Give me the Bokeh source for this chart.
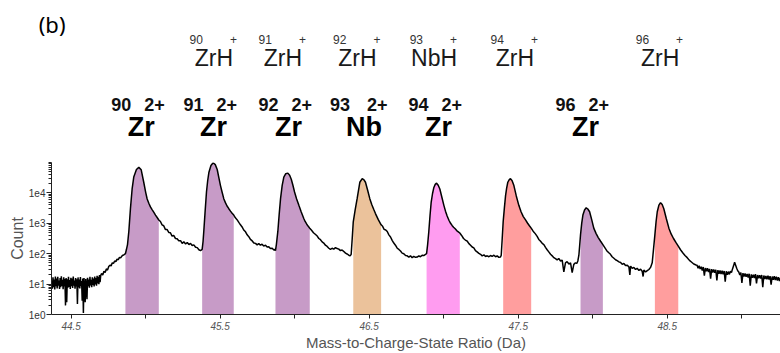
import numpy as np
from bokeh.plotting import figure
from bokeh.layouts import column
from bokeh.models import (Range1d, FixedTicker, CustomJSTickFormatter, ColumnDataSource,
                          LinearAxis)
from bokeh.core.properties import value
from bokeh.embed import file_html
from bokeh.resources import INLINE

# ---------------- data ----------------
# spectrum: mass-to-charge (Da) and log10(count), segment by segment
left_mz = [44.370, 44.374, 44.378, 44.382, 44.386, 44.390, 44.394, 44.398, 44.402, 44.406,
           44.410, 44.414, 44.418, 44.422, 44.426, 44.430, 44.434, 44.438, 44.442, 44.446,
           44.450, 44.454, 44.458, 44.462, 44.466, 44.470, 44.474, 44.478, 44.482, 44.486,
           44.490, 44.494, 44.498, 44.502, 44.506, 44.510, 44.514, 44.518, 44.522, 44.526,
           44.530, 44.534, 44.538, 44.542, 44.546, 44.550, 44.554, 44.558, 44.562, 44.566,
           44.570, 44.574, 44.578, 44.582, 44.586, 44.590, 44.594, 44.598, 44.602, 44.606,
           44.610, 44.614, 44.618, 44.622, 44.626, 44.630, 44.634, 44.638, 44.642, 44.646,
           44.650, 44.654, 44.658, 44.662, 44.666, 44.670, 44.674, 44.678, 44.682, 44.686,
           44.690, 44.694, 44.698,
           44.704, 44.712, 44.720, 44.728, 44.736, 44.744, 44.752, 44.760, 44.768, 44.776,
           44.784, 44.792, 44.800, 44.808, 44.816, 44.824, 44.832, 44.840, 44.848, 44.856,
           44.864]
left_log = [1.05, 0.85, 1.22, 0.90, 1.15, 0.82, 1.25, 0.93, 1.18, 0.86,
            1.24, 0.95, 1.12, 0.84, 1.20, 0.90, 1.26, 0.94, 1.14, 0.83,
            1.22, 0.92, 1.17, 0.30, 1.20, 0.40, 1.16, 0.88, 1.24, 0.91,
            1.13, 0.84, 1.21, 0.93, 1.18, 0.87, 1.25, 0.95, 1.12, 0.85,
            1.20, 0.92, 1.16, 0.35, 1.22, 0.89, 1.15, 0.86, 1.23, 0.94,
            1.10, 0.45, 1.18, 0.05, 1.20, 0.90, 0.40, 1.17, 0.92, 0.50,
            1.21, 0.93, 1.15, 0.88, 1.24, 0.96, 1.14, 0.90, 1.22, 0.97,
            1.18, 0.92, 1.25, 0.99, 1.20, 0.95, 1.27, 1.02, 1.24, 1.00,
            1.30, 1.06, 1.28,
            1.35, 1.30, 1.42, 1.38, 1.50, 1.46, 1.58, 1.62, 1.60, 1.70,
            1.68, 1.76, 1.74, 1.82, 1.80, 1.88, 1.86, 1.92, 1.95, 1.97,
            2.00]

p1_mz = [44.870, 44.878, 44.887, 44.898, 44.909, 44.920, 44.938, 44.954, 44.970, 44.987,
         45.000, 45.010, 45.021, 45.032, 45.043, 45.055, 45.066, 45.077, 45.088,
         45.099, 45.110, 45.121, 45.132, 45.143, 45.155, 45.166, 45.177, 45.188, 45.200,
         45.211, 45.222, 45.234, 45.245, 45.256, 45.268, 45.279, 45.290, 45.301, 45.312,
         45.323, 45.335, 45.346, 45.357, 45.368]
p1_log = [2.12, 2.30, 2.74, 3.50, 4.13, 4.52, 4.77, 4.84, 4.76, 4.35,
          4.02, 3.80, 3.66, 3.54, 3.45, 3.36, 3.27, 3.19, 3.11,
          3.06, 2.95, 2.92, 2.80, 2.80, 2.70, 2.69, 2.58, 2.60, 2.50,
          2.49, 2.43, 2.43, 2.34, 2.39, 2.32, 2.37, 2.30, 2.34, 2.27,
          2.29, 2.21, 2.20, 2.13, 2.10]

p2_mz = [45.379, 45.385, 45.390, 45.399, 45.408, 45.416, 45.424, 45.438, 45.453, 45.467,
         45.480, 45.491, 45.502, 45.513, 45.524, 45.535, 45.546, 45.558, 45.569, 45.580,
         45.591, 45.602, 45.613, 45.625, 45.636, 45.647, 45.658, 45.670, 45.681, 45.692,
         45.703, 45.715, 45.726, 45.737, 45.748, 45.759, 45.770, 45.781, 45.792, 45.804,
         45.815, 45.826, 45.837, 45.849, 45.860, 45.866]
p2_log = [2.14, 2.40, 2.74, 3.40, 4.03, 4.40, 4.67, 4.90, 4.99, 4.93,
          4.77, 4.50, 4.24, 4.02, 3.81, 3.68, 3.57, 3.48, 3.40, 3.33,
          3.27, 3.18, 3.12, 3.03, 2.95, 2.88, 2.78, 2.72, 2.62, 2.56,
          2.47, 2.42, 2.35, 2.34, 2.29, 2.33, 2.28, 2.31, 2.25, 2.28,
          2.22, 2.23, 2.17, 2.18, 2.12, 2.14]

p3_mz = [45.871, 45.877, 45.887, 45.896, 45.905, 45.916, 45.927, 45.940, 45.954, 45.966,
         45.977, 45.988, 45.999, 46.013, 46.028, 46.044, 46.061, 46.070, 46.081, 46.091,
         46.101, 46.113, 46.126, 46.138, 46.151, 46.162, 46.173, 46.184, 46.195, 46.206,
         46.218, 46.229, 46.240, 46.251, 46.262, 46.274, 46.285, 46.296, 46.307, 46.318,
         46.330, 46.341, 46.352, 46.363, 46.372]
p3_log = [2.10, 2.30, 2.74, 3.30, 3.81, 4.25, 4.52, 4.63, 4.65, 4.58,
          4.45, 4.25, 4.03, 3.80, 3.59, 3.37, 3.16, 3.06, 2.97, 2.90,
          2.84, 2.77, 2.69, 2.64, 2.58, 2.50, 2.46, 2.39, 2.35, 2.28,
          2.24, 2.18, 2.14, 2.18, 2.15, 2.20, 2.17, 2.15, 2.10, 2.12,
          2.07, 2.02, 1.99, 1.95, 1.93]

p4_mz = [46.379, 46.386, 46.393, 46.406, 46.419, 46.437, 46.453, 46.465, 46.475, 46.490,
         46.504, 46.517, 46.530, 46.542, 46.561, 46.580, 46.590, 46.600, 46.611, 46.621,
         46.632, 46.643, 46.654, 46.665, 46.676, 46.688, 46.699, 46.710, 46.721, 46.732,
         46.744, 46.755, 46.766, 46.777, 46.788, 46.799, 46.811, 46.822, 46.833, 46.844,
         46.855, 46.866, 46.878]
p4_log = [1.98, 2.50, 3.05, 3.45, 3.81, 4.35, 4.47, 4.43, 4.35, 4.08,
          3.81, 3.62, 3.46, 3.32, 3.12, 2.95, 2.90, 2.80, 2.78, 2.73,
          2.62, 2.55, 2.44, 2.35, 2.28, 2.18, 2.14, 2.09, 2.02, 2.00,
          1.94, 1.93, 1.89, 1.93, 1.87, 1.91, 1.88, 1.89, 1.93, 1.90,
          1.95, 1.94, 1.98]

p5_mz = [46.885, 46.892, 46.900, 46.908, 46.916, 46.925, 46.934, 46.943, 46.952, 46.963,
         46.974, 46.988, 47.001, 47.012, 47.023, 47.035, 47.046, 47.056, 47.066, 47.077,
         47.087, 47.098, 47.108, 47.120, 47.133, 47.145, 47.158, 47.169, 47.180, 47.191,
         47.202, 47.213, 47.224, 47.236, 47.247, 47.258, 47.270, 47.281, 47.292, 47.303,
         47.314, 47.325, 47.337, 47.348, 47.359, 47.370, 47.381]
p5_log = [2.00, 2.30, 2.73, 3.25, 3.70, 3.98, 4.18, 4.28, 4.32, 4.25,
          4.13, 3.85, 3.59, 3.40, 3.24, 3.10, 3.00, 2.93, 2.87, 2.82,
          2.76, 2.72, 2.68, 2.60, 2.50, 2.45, 2.41, 2.33, 2.28, 2.22,
          2.19, 2.10, 2.06, 2.01, 1.98, 1.93, 1.96, 1.91, 1.93, 1.90,
          1.94, 1.91, 1.95, 1.90, 1.93, 1.88, 1.89]

p6_mz = [47.386, 47.392, 47.399, 47.407, 47.415, 47.422, 47.430, 47.440, 47.448, 47.459,
         47.471, 47.487, 47.504, 47.519, 47.534, 47.549, 47.562, 47.575, 47.587, 47.600,
         47.614, 47.627, 47.638, 47.650, 47.661, 47.672, 47.683, 47.694, 47.705, 47.717,
         47.728, 47.739, 47.750, 47.761, 47.772, 47.784, 47.795, 47.806, 47.817, 47.828,
         47.840, 47.851, 47.862, 47.873, 47.884, 47.893, 47.900]
p6_log = [1.95, 2.45, 3.05, 3.50, 3.91, 4.15, 4.35, 4.44, 4.47, 4.40,
          4.24, 3.90, 3.59, 3.38, 3.22, 3.11, 3.01, 2.92, 2.84, 2.74,
          2.66, 2.57, 2.47, 2.41, 2.34, 2.30, 2.21, 2.13, 2.06, 1.98,
          1.93, 1.87, 1.84, 1.80, 1.84, 1.76, 1.79, 1.40, 1.70, 1.74,
          1.66, 1.70, 1.38, 1.65, 1.70, 1.68, 1.76]

p7_mz = [47.907, 47.912, 47.918, 47.926, 47.934, 47.945, 47.956, 47.967, 47.979, 47.993,
         48.007, 48.022, 48.037, 48.053, 48.068, 48.081, 48.094, 48.106, 48.119, 48.130,
         48.142, 48.153, 48.164, 48.176, 48.187, 48.198, 48.209, 48.220, 48.232, 48.243,
         48.249, 48.254, 48.265, 48.276, 48.287, 48.298, 48.310, 48.321, 48.332, 48.338,
         48.343, 48.355, 48.366, 48.377, 48.388]
p7_log = [1.95, 2.25, 2.62, 3.00, 3.27, 3.44, 3.51, 3.47, 3.38, 3.12,
          2.84, 2.67, 2.53, 2.41, 2.30, 2.20, 2.10, 2.04, 1.98, 1.90,
          1.85, 1.80, 1.77, 1.73, 1.71, 1.65, 1.68, 1.61, 1.62, 1.56,
          1.30, 1.59, 1.52, 1.55, 1.48, 1.52, 1.45, 1.49, 1.42, 1.25,
          1.46, 1.40, 1.44, 1.48, 1.55]

p8_mz = [48.399, 48.407, 48.417, 48.425, 48.433, 48.444, 48.455, 48.466, 48.477, 48.494,
         48.511, 48.526, 48.542, 48.558, 48.574, 48.589, 48.604, 48.619, 48.634, 48.649,
         48.664, 48.678, 48.693]
p8_log = [1.70, 2.10, 2.62, 3.05, 3.38, 3.60, 3.68, 3.62, 3.48, 3.15,
          2.84, 2.65, 2.50, 2.37, 2.25, 2.13, 2.03, 1.94, 1.87, 1.78,
          1.72, 1.66, 1.63]

tail_mz = [48.700, 48.707, 48.714, 48.721, 48.728, 48.735, 48.742, 48.749, 48.756, 48.763,
           48.770, 48.777, 48.784, 48.791, 48.798, 48.805, 48.812, 48.819, 48.826, 48.833,
           48.840, 48.847, 48.854, 48.861, 48.868, 48.875, 48.882, 48.889, 48.896, 48.903,
           48.910, 48.917, 48.924, 48.931, 48.938, 48.945, 48.952, 48.959, 48.966, 48.973,
           48.980, 48.987, 48.994, 49.001, 49.008, 49.015, 49.022, 49.029, 49.036, 49.043,
           49.050, 49.057, 49.064, 49.071, 49.078, 49.085, 49.092, 49.099, 49.106, 49.113,
           49.120, 49.127, 49.134, 49.141, 49.148, 49.155, 49.162, 49.169, 49.176, 49.183,
           49.190, 49.197, 49.204, 49.211, 49.218, 49.225, 49.232, 49.239, 49.246, 49.253,
           49.260]
tail_log = [1.62, 1.52, 1.60, 1.50, 1.57, 1.45, 1.56, 1.28, 1.53, 1.42,
            1.52, 1.40, 1.50, 1.18, 1.49, 1.38, 1.48, 1.37, 1.47, 1.12,
            1.46, 1.34, 1.45, 1.33, 1.44, 1.32, 1.43, 1.08, 1.42, 1.31,
            1.41, 1.32, 1.42, 1.38, 1.50, 1.60, 1.72, 1.62, 1.52, 1.44,
            1.40, 1.30, 1.38, 1.04, 1.36, 1.25, 1.35, 1.24, 1.33, 1.22,
            1.34, 0.95, 1.32, 1.21, 1.31, 1.20, 1.33, 1.02, 1.30, 1.19,
            1.29, 1.18, 1.30, 0.90, 1.28, 1.17, 1.27, 1.16, 1.28, 1.15,
            1.26, 0.98, 1.25, 1.14, 1.26, 1.13, 1.24, 1.12, 1.23, 1.10,
            1.20]

# shaded ranging windows
band_start = [44.864, 45.379, 45.871, 46.393, 46.885, 47.399, 47.918, 48.417]
band_end = [45.088, 45.591, 46.101, 46.580, 47.108, 47.587, 48.068, 48.574]
band_kind = ["Zr", "Zr", "Zr", "Nb", "Zr94", "ZrH", "Zr", "ZrH"]

# peak annotations
upper_mass = ["90", "91", "92", "93", "94", "96"]
upper_symbol = ["ZrH", "ZrH", "ZrH", "NbH", "ZrH", "ZrH"]
upper_charge = ["+", "+", "+", "+", "+", "+"]
upper_mz = [45.458, 45.921, 46.421, 46.935, 47.478, 48.452]

lower_mass = ["90", "91", "92", "93", "94", "96"]
lower_symbol = ["Zr", "Zr", "Zr", "Nb", "Zr", "Zr"]
lower_charge = ["2+", "2+", "2+", "2+", "2+", "2+"]
lower_mz = [44.970, 45.455, 45.958, 46.465, 46.965, 47.952]

panel_tag = "(b)"

x_ticks = [44.5, 45.5, 46.5, 47.5, 48.5]
x_minor_ticks = [45.0, 46.0, 47.0, 48.0, 49.0]
y_ticks = [1, 10, 100, 1000, 10000]

# ---------------- build ----------------
segments = [(left_mz, left_log), (p1_mz, p1_log), (p2_mz, p2_log), (p3_mz, p3_log),
            (p4_mz, p4_log), (p5_mz, p5_log), (p6_mz, p6_log), (p7_mz, p7_log),
            (p8_mz, p8_log), (tail_mz, tail_log)]
for a, b in segments:
    assert len(a) == len(b), (len(a), len(b))
mz = np.concatenate([np.array(a) for a, _ in segments])
counts = 10.0 ** np.concatenate([np.array(b) for _, b in segments])
order = np.argsort(mz, kind="stable")
mz, counts = mz[order], counts[order]

band_colors = {"Zr": "#C79BC7", "Nb": "#EBC29B", "Zr94": "#FF9CF0", "ZrH": "#FF9E9E"}

W = 780
TOP_H = 162
BOT_H = 191
PLOT_LEFT = 51
X_START, X_END = 44.368, 49.260
x_range = Range1d(X_START, X_END)

FONT = value("Liberation Sans")

# top annotation strip (frame aligned with the spectrum frame)
top = figure(width=W, height=TOP_H, x_range=x_range, y_range=Range1d(TOP_H, 0),
             output_backend="svg", toolbar_location=None, x_axis_location=None,
             y_axis_location=None, min_border=0, min_border_left=PLOT_LEFT,
             outline_line_color=None)
top.grid.visible = False

src_up = ColumnDataSource(dict(x=upper_mz, sym=upper_symbol, mass=upper_mass, chg=upper_charge))
top.text(x="x", y=57, text="sym", source=src_up, text_font=FONT, text_font_size="23px",
         text_align="center", text_baseline="middle", text_color="#1a1a1a")
top.text(x="x", y=39, text="mass", source=src_up, x_offset=-11, text_font=FONT,
         text_font_size="12px", text_align="right", text_baseline="middle", text_color="#333333")
top.text(x="x", y=38.5, text="chg", source=src_up, x_offset=19.5, text_font=FONT,
         text_font_size="12px", text_align="center", text_baseline="middle", text_color="#333333")

half_w = {"Zr": 14, "Nb": 18}
src_lo = ColumnDataSource(dict(x=lower_mz, sym=lower_symbol, mass=lower_mass, chg=lower_charge,
                               moff=[-half_w[s] + 4 for s in lower_symbol]))
top.text(x="x", y=126, text="sym", source=src_lo, text_font=FONT, text_font_size="27px",
         text_font_style="bold", text_align="center", text_baseline="middle", text_color="#000000")
top.text(x="x", y=104, text="mass", source=src_lo, x_offset="moff", text_font=FONT,
         text_font_size="18px", text_font_style="bold", text_align="right",
         text_baseline="middle", text_color="#111111")
top.text(x="x", y=104, text="chg", source=src_lo, x_offset=3, text_font=FONT,
         text_font_size="18px", text_font_style="bold", text_align="left",
         text_baseline="middle", text_color="#111111")

# panel tag "(b)" drawn as the single label of an invisible left axis (not clipped by the frame)
tag_axis = LinearAxis(ticker=FixedTicker(ticks=[23.5], minor_ticks=[]),
                      formatter=CustomJSTickFormatter(code="return %r;" % panel_tag),
                      axis_line_color=None, major_tick_line_color=None,
                      minor_tick_line_color=None, major_tick_in=0, major_tick_out=0,
                      major_label_standoff=-14, major_label_text_font="Noto Sans",
                      major_label_text_font_size="22px", major_label_text_color="#000000")
top.add_layout(tag_axis, "left")

# main spectrum
p = figure(width=W, height=BOT_H, x_range=x_range, y_range=Range1d(1, 1e5),
           y_axis_type="log", output_backend="svg", toolbar_location=None,
           min_border_left=PLOT_LEFT, min_border_right=0, min_border_top=0, min_border_bottom=35,
           outline_line_color=None)
p.grid.visible = False

for s, e, k in zip(band_start, band_end, band_kind):
    sel = (mz >= s - 1e-9) & (mz <= e + 1e-9)
    p.varea(x=mz[sel], y1=np.ones(int(sel.sum())), y2=counts[sel], fill_color=band_colors[k])

p.line(mz, counts, line_color="#000000", line_width=1.5)

xa = p.xaxis[0]
xa.ticker = FixedTicker(ticks=x_ticks, minor_ticks=x_minor_ticks)
xa.major_tick_in = 0
xa.major_tick_out = 4
xa.minor_tick_in = 0
xa.minor_tick_out = 4
xa.axis_line_color = "#222222"
xa.major_tick_line_color = "#222222"
xa.minor_tick_line_color = "#222222"
xa.major_label_text_font = "Liberation Sans"
xa.major_label_text_font_size = "10px"
xa.major_label_text_font_style = "italic"
xa.major_label_text_color = "#555555"
xa.major_label_standoff = 3
xa.axis_label = "Mass-to-Charge-State Ratio (Da)"
xa.axis_label_text_font = "Liberation Sans"
xa.axis_label_text_font_size = "15px"
xa.axis_label_text_font_style = "normal"
xa.axis_label_text_color = "#555555"
xa.axis_label_standoff = 1

ya = p.yaxis[0]
ya.ticker = FixedTicker(ticks=y_ticks,
                        minor_ticks=[k * 10 ** d for d in range(5) for k in range(2, 11)])
ya.formatter = CustomJSTickFormatter(code="return '1e' + Math.round(Math.log10(tick));")
ya.major_tick_in = 0
ya.major_tick_out = 5
ya.minor_tick_in = 0
ya.minor_tick_out = 3
ya.axis_line_color = "#222222"
ya.major_tick_line_color = "#222222"
ya.minor_tick_line_color = "#222222"
ya.major_label_text_font = "Liberation Sans"
ya.major_label_text_font_size = "10px"
ya.major_label_text_color = "#333333"
ya.major_label_standoff = 1
ya.axis_label = "Count"
ya.axis_label_text_font = "Liberation Sans"
ya.axis_label_text_font_size = "16px"
ya.axis_label_text_font_style = "normal"
ya.axis_label_text_color = "#555555"
ya.axis_label_standoff = 0

layout = column(top, p, spacing=0)
open("out.html", "w").write(file_html(layout, INLINE))
